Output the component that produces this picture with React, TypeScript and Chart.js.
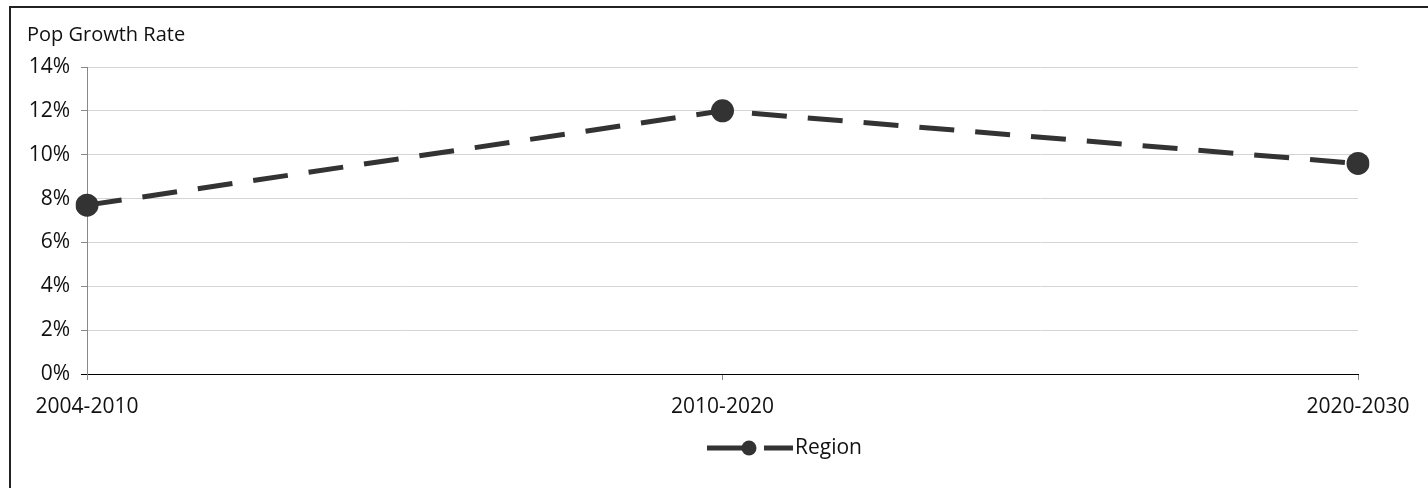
import React, { useEffect, useRef } from "react";
import { Chart, registerables } from "chart.js";

Chart.register(...registerables);

const periods = ["2004-2010", "2010-2020", "2020-2030"];
const regionGrowth = [7.7, 12.0, 9.6];
const seriesName = "Region";
const axisTitle = "Pop Growth Rate";
const yMin = 0;
const yMax = 14;
const yStep = 2;

const FONT = "'Open Sans', 'Noto Sans', sans-serif";
const INK = "#333333";

// Draws the axis caption above the value axis and a centred legend under the plot.
const captionAndLegend = {
  id: "captionAndLegend",
  afterDraw(chart: any) {
    const ctx = chart.ctx;
    const ds = chart.data.datasets[0];
    ctx.save();
    ctx.font = `20px ${FONT}`;
    ctx.fillStyle = "#111";
    ctx.textBaseline = "middle";
    ctx.textAlign = "left";
    ctx.fillText(axisTitle, 27, 35);

    // legend: dash, marker, dash, label
    const y = 448;
    const x0 = 707;
    ctx.strokeStyle = ds.borderColor;
    ctx.lineWidth = 5;
    ctx.lineCap = "butt";
    ctx.beginPath();
    ctx.moveTo(x0, y);
    ctx.lineTo(x0 + 40, y);
    ctx.moveTo(x0 + 57, y);
    ctx.lineTo(x0 + 86, y);
    ctx.stroke();
    ctx.fillStyle = ds.pointBackgroundColor;
    ctx.beginPath();
    ctx.arc(x0 + 42, y, 7.5, 0, Math.PI * 2);
    ctx.fill();
    ctx.fillStyle = "#111";
    ctx.font = `21px ${FONT}`;
    ctx.fillText(ds.label, x0 + 88, y);
    ctx.restore();
  },
};

export default function App() {
  const canvasRef = useRef<HTMLCanvasElement>(null);

  useEffect(() => {
    const canvas = canvasRef.current;
    if (!canvas) return;
    const chart = new Chart(canvas, {
      type: "line",
      data: {
        labels: periods,
        datasets: [
          {
            label: seriesName,
            data: regionGrowth,
            borderColor: INK,
            borderWidth: 5,
            borderDash: [35, 21],
            borderCapStyle: "butt",
            pointRadius: 11.5,
            pointHoverRadius: 11.5,
            pointBackgroundColor: INK,
            pointBorderColor: INK,
            pointBorderWidth: 0,
            tension: 0,
            fill: false,
          },
        ],
      },
      options: {
        responsive: false,
        animation: false,
        events: [],
        layout: { padding: { top: 67, right: 70, left: 0, bottom: 0 } },
        plugins: {
          legend: { display: false },
          title: { display: false },
          tooltip: { enabled: false },
        },
        scales: {
          x: {
            offset: false,
            grid: {
              drawOnChartArea: false,
              drawTicks: true,
              tickLength: 6,
              tickColor: "#888",
            },
            border: { color: "#000", width: 1 },
            ticks: {
              font: { family: FONT, size: 21 },
              color: "#111",
              padding: 14,
              maxRotation: 0,
              autoSkip: false,
            },
            afterFit(scale: any) {
              scale.height = 114;
            },
          },
          y: {
            min: yMin,
            max: yMax,
            grid: {
              color: (c: any) => (c.tick && c.tick.value === 0 ? "rgba(0,0,0,0)" : "#d4d4d4"),
              tickColor: (c: any) => (c.tick && c.tick.value === 0 ? "#000" : "#888"),
              tickLength: 6,
              lineWidth: 1,
            },
            border: { color: "#888", width: 1 },
            ticks: {
              stepSize: yStep,
              font: { family: FONT, size: 21 },
              color: "#111",
              padding: 11,
              callback: (v: any) => `${v}%`,
            },
            afterFit(scale: any) {
              scale.width = 87;
            },
          },
        },
      },
      plugins: [captionAndLegend],
    } as any);
    return () => chart.destroy();
  }, []);

  return (
    <div style={{ position: "fixed", inset: 0, overflow: "hidden", background: "#fff" }}>
      <div
        style={{
          position: "absolute",
          left: 9,
          top: 6,
          width: 1500,
          height: 600,
          border: "2px solid #222",
          boxSizing: "border-box",
        }}
      />
      <canvas
        ref={canvasRef}
        width={1428}
        height={488}
        style={{ position: "absolute", left: 0, top: 0, width: 1428, height: 488 }}
      />
    </div>
  );
}
